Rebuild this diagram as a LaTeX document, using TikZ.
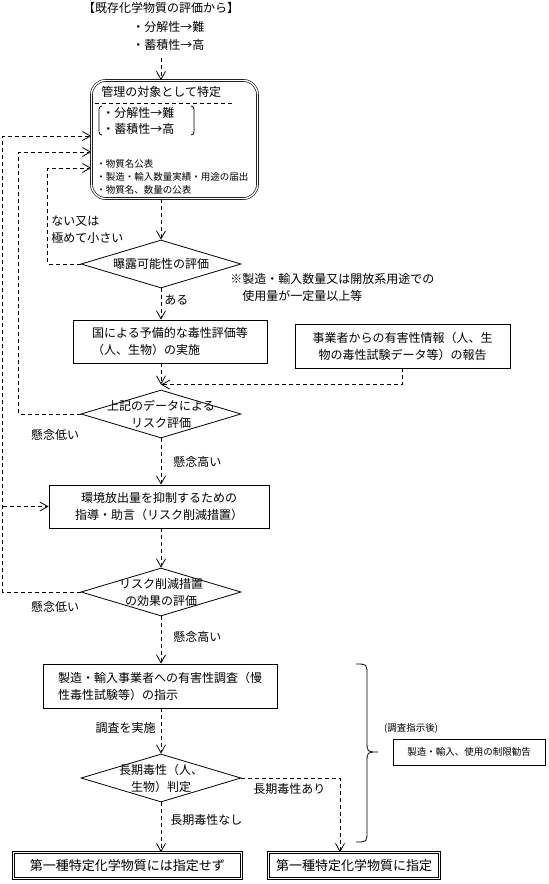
\documentclass[tikz,border=0pt]{standalone}
\usepackage{fontspec}
\setmainfont{Noto Sans CJK JP}
\usetikzlibrary{arrows.meta, shapes.geometric, calc}

\begin{document}
\begin{tikzpicture}[
  x=1pt, y=-1pt,
  font=\fontsize{12}{17}\selectfont,
  line width=0.8pt,
  txt/.style={inner sep=1pt},
  note/.style={txt, font=\fontsize{9.5}{13}\selectfont},
  box/.style={draw, inner sep=0pt, align=center},
  dbox/.style={box, double, double distance=1.4pt, line width=0.6pt, font=\fontsize{13}{17}\selectfont},
  mgmtbox/.style={dbox, rounded corners=14pt, minimum width=166pt, minimum height=118pt},
  dia/.style={diamond, draw, inner sep=0pt, minimum width=160pt, minimum height=48pt},
  dlbl/.style={inner sep=0pt, align=center},
  flow/.style={draw, dash pattern=on 4pt off 3pt, -{Straight Barb[length=8pt,width=9pt]}},
  sep/.style={draw, dash pattern=on 4pt off 3pt}
]
\useasboundingbox (0,0) rectangle (549,884);

% Start: evaluation of existing substances
\node[txt] (title) at (161,8) {【既存化学物質の評価から】};
\node[txt, anchor=west] (crit1) at (131,27) {・分解性→難};
\node[txt, anchor=west] (crit2) at (131,45) {・蓄積性→高};

% Managed substance box
\node[mgmtbox] (mgmt) at (174.5,139.5) {};
\node[txt, anchor=west] (mgmthead) at (100,92) {管理の対象として特定};
\draw[sep] (95,103) -- (233,103);
\draw[rounded corners=3pt] (102,106) -- (99,106) -- (99,135) -- (102,135);
\draw[rounded corners=3pt] (191,106) -- (194,106) -- (194,135) -- (191,135);
\node[txt, anchor=west] (crit3) at (101,113) {・分解性→難};
\node[txt, anchor=west] (crit4) at (101,129) {・蓄積性→高};
\node[note, anchor=west, align=left] (duties) at (95,177)
  {・物質名公表\\・製造・輸入数量実績・用途の届出\\・物質名、数量の公表};

% Main column
\node[dia, label={[dlbl]center:曝露可能性の評価}] (expo) at (161,264) {};
\node[box, minimum width=194pt, minimum height=43pt, align=left] (prelim) at (170,341.5)
  {国による予備的な毒性評価等\\（人、生物）の実施};
\node[box, minimum width=215pt, minimum height=44pt] (report) at (402.5,346)
  {事業者からの有害性情報（人、生\\物の毒性試験データ等）の報告};
\node[dia, label={[dlbl]center:{上記のデータによる\\リスク評価}}] (risk) at (161,414) {};
\node[box, minimum width=220pt, minimum height=43pt] (guide) at (159,506.5)
  {環境放出量を抑制するための\\指導・助言（リスク削減措置）};
\node[dia, label={[dlbl]center:{リスク削減措置\\の効果の評価}}] (eff) at (161,592) {};
\node[box, minimum width=234pt, minimum height=44pt, align=left] (survey) at (160,686)
  {製造・輸入事業者への有害性調査（慢\\性毒性試験等）の指示};
\node[dia, label={[dlbl]center:{長期毒性（人、\\生物）判定}}] (judge) at (161,778) {};

% Results
\node[dbox, minimum width=228pt, minimum height=26pt] (notdes) at (127.5,865.5) {第一種特定化学物質には指定せず};
\node[dbox, minimum width=171pt, minimum height=26pt] (desig) at (354,865.5) {第一種特定化学物質に指定};
\node[box, note, minimum width=152pt, minimum height=26pt] (advice) at (469,752) {製造・輸入、使用の制限勧告};
\node[note] (after) at (411,728) {(調査指示後)};

% Labels
\node[txt, anchor=west, align=left] (lownone) at (50,230) {ない又は\\極めて小さい};
\node[txt, anchor=west] (exists) at (163,300) {ある};
\node[txt, anchor=west, align=left] (remark) at (229,287)
  {※製造・輸入数量又は開放系用途での\\\hspace*{1em}使用量が一定量以上等};
\node[txt] (low1) at (55,435) {懸念低い};
\node[txt, anchor=west] (high1) at (172,462) {懸念高い};
\node[txt] (low2) at (55,607) {懸念低い};
\node[txt, anchor=west] (high2) at (172,637) {懸念高い};
\node[txt, anchor=east] (done) at (157,728) {調査を実施};
\node[txt, anchor=west] (toxno) at (169,820) {長期毒性なし};
\node[txt, anchor=west] (toxyes) at (252,789) {長期毒性あり};

% Main flow
\coordinate (src) at (161,58);
\draw[flow] (src) -- (src |- mgmt.north);
\draw[flow] (mgmt.south -| expo.north) -- (expo.north);
\draw[flow] (expo.south) -- (expo.south |- prelim.north);
\coordinate (merge) at ($(risk.north)+(0,-5)$);
\draw[flow] (prelim.south -| merge) -- (merge);
\draw[flow] (report.south) |- (merge);
\draw[flow] (risk.south) -- (risk.south |- guide.north);
\draw[flow] (guide.south -| eff.north) -- (eff.north);
\draw[flow] (eff.south) -- (eff.south |- survey.north);
\draw[flow] (survey.south -| judge.north) -- (judge.north);
\draw[flow] (judge.south) -- (judge.south |- notdes.north);
\draw[flow] (judge.east) -| ([xshift=-14pt]desig.north);

% Feedback to management
\draw[flow] (expo.west) -- ++(-33,0) |- ($(mgmt.west)+(0,28.5)$);
\draw[flow] (risk.west) -- ++(-62,0) |- ($(mgmt.west)+(0,12.5)$);
\coordinate (rail) at ($(eff.west)+(-78,0)$);
\draw[flow] (eff.west) -- (rail) |- ($(mgmt.west)+(0,-3.5)$);
\draw[flow] (rail |- guide.west) -- (guide.west);

% Brace for survey stage
\draw (356,664) .. controls (367,664) .. (367,675) -- (367,741)
  .. controls (367,752) .. (378,752) .. controls (367,752) .. (367,763)
  -- (367,831) .. controls (367,842) .. (356,842);

\end{tikzpicture}
\end{document}
